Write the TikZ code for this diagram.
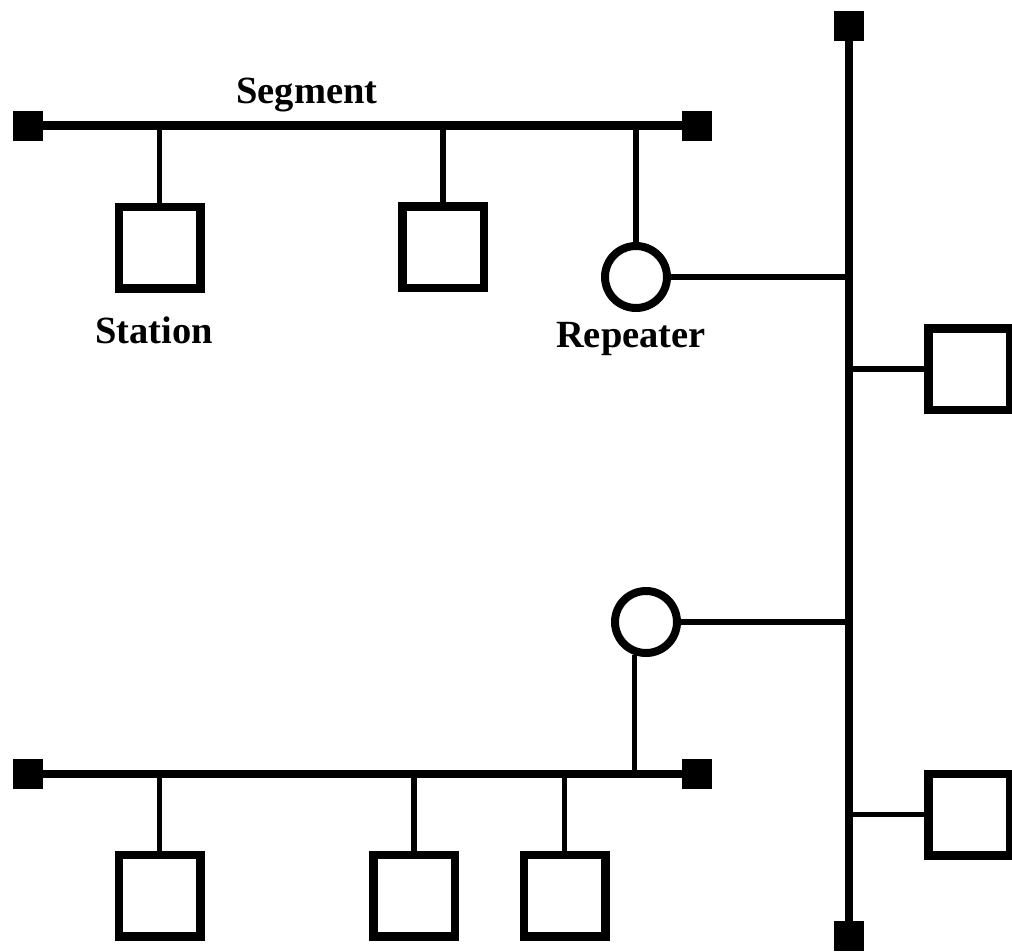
\documentclass[tikz,border=0pt]{standalone}
\usepackage{fontspec}
\setmainfont{Liberation Serif}
\begin{document}
\begin{tikzpicture}[x=1pt,y=-1pt,
 term/.style={rectangle,fill=black,draw=none,minimum width=30pt,minimum height=30pt,inner sep=0pt},
 station/.style={rectangle,draw=black,fill=white,line width=8.5pt,minimum size=81.5pt,inner sep=0pt},
 repeater/.style={circle,draw=black,fill=white,line width=8pt,minimum size=62pt,inner sep=0pt},
 bus/.style={line width=8.5pt},
 tap/.style={line width=5.5pt},
 lbl/.style={font=\bfseries\fontsize{38.5}{40}\selectfont,anchor=base,inner sep=0pt}]
\useasboundingbox (0,0) rectangle (1012,951);

% top segment
\node[term] (tl) at (27.5,125.5) {};
\node[term] (tr) at (696.5,125.5) {};
\draw[bus] (tl.center) -- (tr.center);
\node[station] (s1) at (159.5,247.5) {};
\node[station] (s2) at (443,247) {};
\node[repeater] (r1) at (636,277) {};
\draw[tap] (s1.north |- tl.center) -- (s1.north);
\draw[tap] (s2.north |- tl.center) -- (s2.north);
\draw[tap] (r1.north |- tl.center) -- (r1.north);

% backbone
\node[term] (bt) at (849,25.5) {};
\node[term] (bb) at (849,936) {};
\draw[bus] (bt.center) -- (bb.center);
\node[station] (s4) at (969,369) {};
\node[station] (s5) at (969,814.5) {};
\draw[tap] (r1.east) -- (r1.east -| bt.center);
\draw[tap] (s4.west -| bt.center) -- (s4.west);
\draw[tap] (s5.west -| bt.center) -- (s5.west);

% bottom segment
\node[term] (bl) at (27.5,774) {};
\node[term] (br) at (696.5,774) {};
\draw[bus] (bl.center) -- (br.center);
\node[repeater] (r2) at (646,622) {};
\draw[tap] (r2.east) -- (r2.east -| bt.center);
\draw[tap] (r2.251) -- (r2.251 |- bl.center);
\node[station] (s6) at (159.5,895.5) {};
\node[station] (s7) at (414,895.5) {};
\node[station] (s8) at (564.5,895.5) {};
\draw[tap] (s6.north |- bl.center) -- (s6.north);
\draw[tap] (s7.north |- bl.center) -- (s7.north);
\draw[tap] (s8.north |- bl.center) -- (s8.north);

% labels
\node[lbl] (seg) at (307,103) {Segment};
\node[lbl] (stl) at (154,343) {Station};
\node[lbl] (rpl) at (631,347) {Repeater};
\end{tikzpicture}
\end{document}
